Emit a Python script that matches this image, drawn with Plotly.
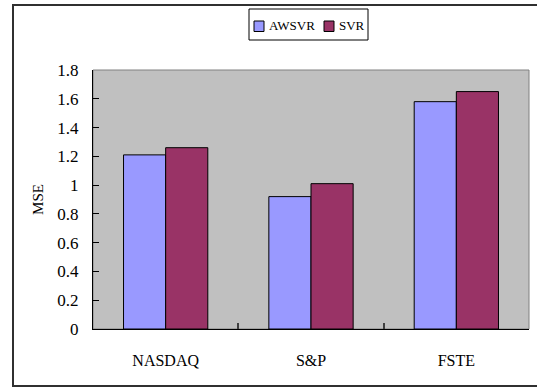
import plotly.graph_objects as go

# MSE per index, two models
indices = ["NASDAQ", "S&P", "FSTE"]
awsvr_mse = [1.21, 0.92, 1.58]
svr_mse = [1.26, 1.01, 1.65]
series_names = ["AWSVR", "SVR"]
series_colors = ["#9999FF", "#993366"]

FONT = '"Liberation Serif", "DejaVu Serif", serif'

# plot area in pixels (figure is 537 x 387)
W, H = 537, 387
L, R, T, B = 93, 529, 70, 329
pw, ph = R - L, B - T


def px_x(x):
    return (x - L) / pw


def px_y(y):
    return (B - y) / ph


fig = go.Figure()
for name, color, vals in zip(series_names, series_colors, [awsvr_mse, svr_mse]):
    fig.add_trace(go.Bar(
        x=indices, y=vals, name=name,
        marker=dict(color=color, line=dict(color="black", width=1)),
    ))

shapes = [
    # plot-area frame
    dict(type="rect", xref="paper", yref="paper", x0=0, x1=1, y0=0, y1=1,
         line=dict(color="#808080", width=1), fillcolor="rgba(0,0,0,0)",
         layer="below"),
    # outer chart frame
    dict(type="rect", xref="paper", yref="paper",
         x0=px_x(13), x1=px_x(545), y0=px_y(386), y1=px_y(5),
         line=dict(color="#303030", width=2), fillcolor="rgba(0,0,0,0)",
         layer="above"),
    # legend box
    dict(type="rect", xref="paper", yref="paper",
         x0=px_x(249), x1=px_x(368), y0=px_y(40), y1=px_y(9),
         line=dict(color="black", width=1), fillcolor="white",
         layer="above"),
]
annotations = []

# legend entries: swatch + label
swatch_x = [254, 324]
label_x = [267, 337]
for name, color, sx, lx in zip(series_names, series_colors, swatch_x, label_x):
    shapes.append(dict(type="rect", xref="paper", yref="paper",
                       x0=px_x(sx), x1=px_x(sx + 10),
                       y0=px_y(31.5), y1=px_y(21),
                       line=dict(color="black", width=1), fillcolor=color,
                       layer="above"))
    annotations.append(dict(xref="paper", yref="paper",
                            x=px_x(lx), y=px_y(26), xanchor="left", yanchor="middle",
                            text=name, showarrow=False,
                            font=dict(family=FONT, size=13, color="black")))

fig.update_layout(
    width=W, height=H,
    margin=dict(l=L, r=W - R, t=T, b=H - B, pad=0),
    paper_bgcolor="white",
    plot_bgcolor="#C0C0C0",
    barmode="group",
    bargap=0.42,
    bargroupgap=0,
    font=dict(family=FONT, size=15, color="black"),
    showlegend=False,
    shapes=shapes,
    annotations=annotations,
)

fig.update_yaxes(
    range=[0, 1.8], dtick=0.2, tick0=0,
    showgrid=False, zeroline=False,
    showline=True, linecolor="black", linewidth=1,
    ticks="inside", ticklen=6, tickcolor="black", tickwidth=1,
    ticklabelstandoff=10,
    tickfont=dict(family=FONT, size=17),
    title=dict(text="MSE", font=dict(family=FONT, size=15), standoff=10),
)
fig.update_xaxes(
    showgrid=False, zeroline=False,
    showline=True, linecolor="black", linewidth=1,
    ticks="inside", ticklen=6, tickcolor="#404040", tickwidth=2,
    tickson="boundaries",
    ticklabelstandoff=17,
    tickfont=dict(family=FONT, size=16),
)

fig.write_html("out.html")
